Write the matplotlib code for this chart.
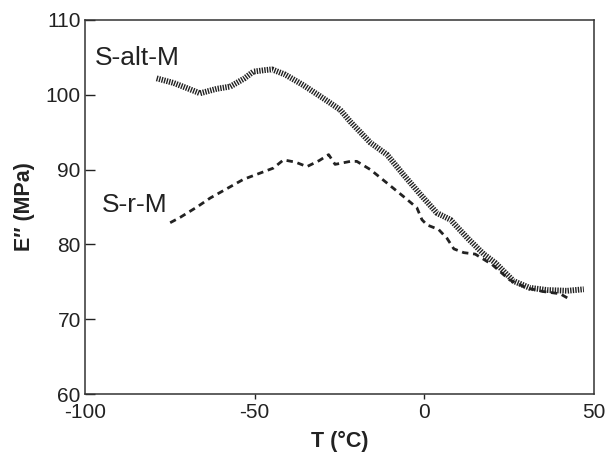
import numpy as np
import matplotlib
matplotlib.use('Agg')
import matplotlib.pyplot as plt

# ---------- settings ---------- #
plt.rcParams['font.family'] = ['Liberation Sans', 'DejaVu Sans']
plt.rcParams['lines.scale_dashes'] = False
plt.rcParams['axes.unicode_minus'] = False
ink = '#222222'

# ---------- data ---------- #
t_alt = [-78.9, -74, -70, -66.1, -61.2, -57.2, -53, -50.4, -47, -44.9, -41, -35.7,
         -30, -24.8, -21.8, -15.9, -11.0, -6.1, -1.2, 3.7, 7.7, 12.6, 17.5, 21,
         26.3, 31, 36.2, 42.1, 47.0]
e_alt = [102.2, 101.6, 100.9, 100.2, 100.8, 101.1, 102.2, 103.1, 103.3, 103.4, 102.7, 101.3,
         99.6, 98.0, 96.4, 93.6, 92.0, 89.3, 86.7, 84.2, 83.3, 80.9, 78.7, 77.5,
         75.1, 74.2, 73.9, 73.8, 74.0]

t_r = [-74.9, -72, -67, -63.1, -58, -53.3, -48, -44.5, -41.5, -38, -34.6, -31,
       -28.2, -26.3, -21.8, -19.9, -15.9, -11.0, -5.6, -2.2, -0.7, 0.8, 4.2, 6.7,
       8.7, 11.6, 15.0, 20, 25, 30, 35, 40, 43.1]
e_r = [82.9, 83.6, 85.0, 86.2, 87.5, 88.7, 89.6, 90.2, 91.3, 91.0, 90.4, 91.2,
       92.0, 90.7, 91.1, 91.1, 90.0, 88.2, 86.2, 84.9, 83.3, 82.6, 82.0, 80.8,
       79.4, 78.9, 78.7, 77.3, 75.3, 74.2, 73.7, 73.4, 72.6]

x_ticks = [-100, -50, 0, 50]
y_ticks = [60, 70, 80, 90, 100, 110]

# ---------- plot ---------- #
fig = plt.figure(figsize=(6.1, 4.59), dpi=100)
ax = fig.add_axes([85 / 610, 1 - 394 / 459, (594 - 85) / 610, (394 - 20) / 459])

ax.plot(t_r, e_r, color=ink, lw=2.0, linestyle=(0, (4.6, 3.4)), dash_capstyle='butt')
ax.plot(t_alt, e_alt, color=ink, lw=4.2, linestyle=(0, (1.0, 0.85)), dash_capstyle='butt')

ax.text(-97.0, 104.9, 'S-alt-M', fontsize=19, color=ink, va='center', ha='left')
ax.text(-95.0, 85.3, 'S-r-M', fontsize=19, color=ink, va='center', ha='left')

ax.set_xlim(-100, 50)
ax.set_ylim(60, 110)
ax.set_xticks(x_ticks)
ax.set_yticks(y_ticks)
ax.tick_params(axis='x', direction='out', length=3.6, width=1, colors=ink, labelsize=15, pad=3)
ax.tick_params(axis='y', direction='in', length=7, width=1, colors=ink, labelsize=15, pad=3)
for i in (0, 3):
    ax.xaxis.get_major_ticks()[i].tick1line.set_visible(False)

for s in ax.spines.values():
    s.set_color('#333333')
    s.set_linewidth(1.1)

ax.set_xlabel('T (\u00b0C)', fontsize=15.5, fontweight='bold', color=ink, labelpad=6)
ax.set_ylabel('E\u2033 (MPa)', fontsize=15.5, fontweight='bold', color=ink, labelpad=8)

fig.savefig('out.png', dpi=100)
